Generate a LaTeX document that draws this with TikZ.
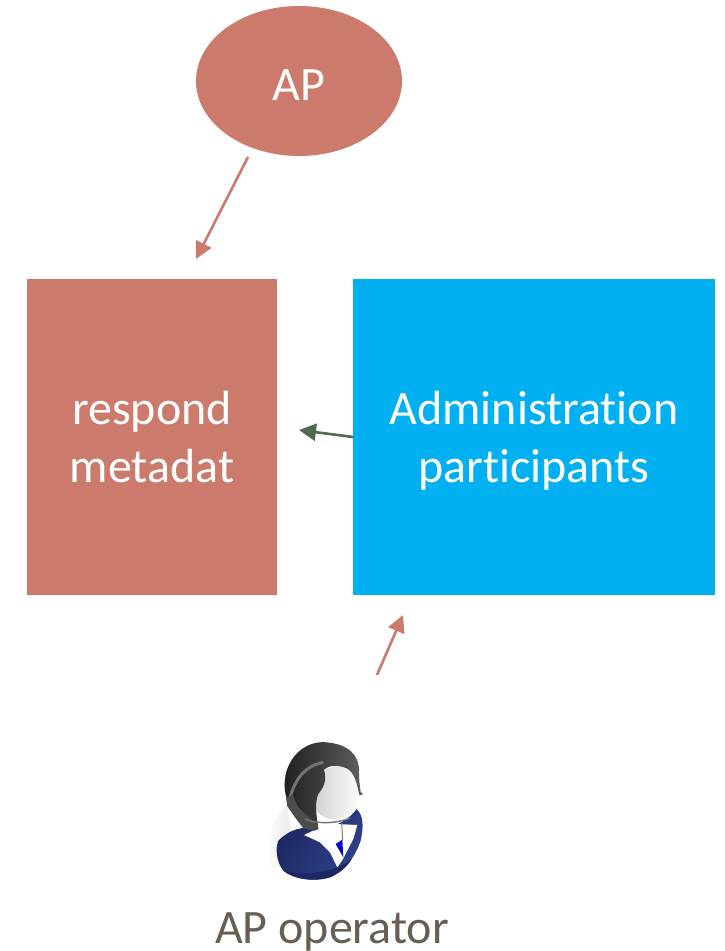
\documentclass[tikz,border=0pt]{standalone}
\usepackage{fontspec}
\setmainfont[Ligatures=CommonOff]{Carlito}
\usetikzlibrary{shapes.geometric,arrows.meta}
\definecolor{salmon}{HTML}{CC7A6C}
\definecolor{skyb}{HTML}{00B0F0}
\definecolor{greenarr}{HTML}{4E6B4C}
\definecolor{optext}{HTML}{675E55}
\definecolor{navy}{HTML}{2F4190}
\definecolor{navyd}{HTML}{1C2860}
\tikzset{
  x=1pt,y=-1pt,
  lab/.style={font=\fontsize{48}{58}\selectfont,text=white,align=center,inner sep=0pt},
  boxa/.style={fill=salmon,draw=none,inner sep=0pt},
  boxb/.style={fill=skyb,draw=none,inner sep=0pt},
  arr/.style={line width=2.6pt,-{Triangle[length=17pt,width=17pt]}},
}
\begin{document}
\begin{tikzpicture}
\useasboundingbox (0,0) rectangle (724,951);
\fill[white] (0,0) rectangle (724,951);
\node[ellipse,fill=salmon,minimum width=206pt,minimum height=150pt,inner sep=0pt] (ap) at (299,81) {};
\node[lab] (aptext) at (299,85) {AP};
\fill[boxa] (27,279) rectangle (277,595);
\fill[boxb] (353,279) rectangle (715,595);
\node[lab] (meta) at (152,442) {\strut respond\\\strut metadat};
\node[lab] (admin) at (534,442) {\strut Administration\\\strut participants};
\coordinate (s1) at (248,157);
\coordinate (e1) at (196,259);
\coordinate (s2) at (353,437);
\coordinate (e2) at (299,430);
\coordinate (s3) at (377,675);
\coordinate (e3) at (403,615);
\draw[arr,salmon] (s1) -- (e1);
\draw[arr,greenarr] (s2) -- (e2);
\draw[arr,salmon] (s3) -- (e3);
% operator figure, drawn in 3x crop coordinates
\begin{scope}[shift={(250,729)},x=0.3333pt,y=-0.3333pt]
\shade[left color=white,right color=black!10] (60,420) .. controls (50,330) and (60,270) .. (110,230) -- (140,400) -- cycle;
\shade[left color=navyd,right color=navy,shading angle=60] (85,335) .. controls (120,300) and (160,290) .. (200,300)
  .. controls (250,300) and (300,270) .. (320,240)
  .. controls (340,260) and (342,290) .. (332,335)
  .. controls (315,385) and (285,425) .. (240,445)
  .. controls (190,460) and (130,450) .. (100,425)
  .. controls (80,400) and (75,360) .. (85,335) -- cycle;
\fill[navyd] (100,425) .. controls (130,450) and (190,460) .. (240,445)
  .. controls (270,432) and (290,415) .. (305,390)
  .. controls (270,420) and (190,445) .. (100,425) -- cycle;
\fill[white] (162,318) -- (210,340) -- (240,370) -- (262,415) -- (278,392) -- (310,330) -- (322,288) -- (260,285) -- (200,300) -- cycle;
\fill[blue!80!black] (257,345) -- (277,332) -- (280,385) -- cycle;
\shade[left color=black!18,right color=white] (215,130) .. controls (260,95) and (320,100) .. (330,170)
  .. controls (335,225) and (305,270) .. (255,272)
  .. controls (215,270) and (190,245) .. (190,215)
  .. controls (195,180) and (225,170) .. (215,130) -- cycle;
\shade[left color=black!88,right color=black!62] (110,125) .. controls (130,65) and (180,35) .. (230,40)
  .. controls (290,45) and (330,75) .. (327,130)
  .. controls (327,155) and (330,175) .. (332,190)
  .. controls (342,192) and (340,200) .. (328,198)
  .. controls (322,170) and (315,130) .. (290,118)
  .. controls (260,105) and (235,110) .. (222,122)
  .. controls (230,150) and (225,170) .. (205,195)
  .. controls (190,225) and (205,290) .. (205,300)
  .. controls (185,315) and (150,290) .. (125,240)
  .. controls (100,200) and (100,160) .. (110,125) -- cycle;
\draw[black!55,line width=3pt] (120,205) .. controls (140,140) and (170,110) .. (220,100);
\fill[black!70] (108,205) -- (128,198) -- (145,235) -- (205,290) -- (195,305) -- (160,298) -- (135,265) -- (112,232) -- cycle;
\draw[black!55,line width=1.4pt] (165,270) .. controls (200,285) and (250,285) .. (300,268);
\draw[black!50,line width=1pt] (275,282) -- (278,335);
\end{scope}
\node[font=\fontsize{48}{50}\selectfont,text=optext,inner sep=0pt] (op) at (332,932) {AP operator};
\end{tikzpicture}
\end{document}
